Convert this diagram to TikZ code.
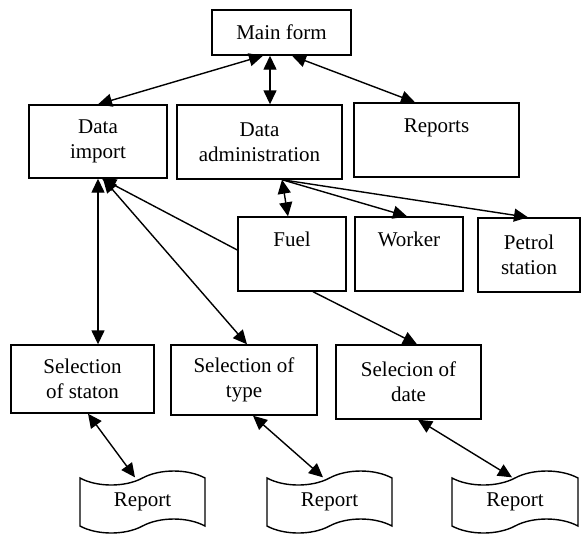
\documentclass[tikz,border=0pt]{standalone}
\usepackage{fontspec}
\setmainfont{Liberation Serif}
\usetikzlibrary{arrows.meta,shapes.symbols}
\begin{document}
\begin{tikzpicture}[x=0.5pt, y=-0.5pt, line width=0.7pt,
	>={Triangle[length=7pt,width=6.5pt]},
	sz/.style n args={2}{minimum width=#1*0.5pt, minimum height=#2*0.5pt},
	box/.style={draw, align=center, inner sep=0pt, font=\fontsize{10.5}{12.5}\selectfont},
	tapebox/.style={box, shape=tape, tape bend height=7pt}]
	\useasboundingbox (0,0) rectangle (581,536);
	\node[box, sz={139}{45}] (main) at (281.5,32.5) {Main form};
	\node[box, sz={138}{73}] (imp) at (98,141.5) {Data\\import};
	\node[box, sz={165}{74}] (adm) at (259.5,142) {Data\\administration};
	\node[box, sz={165}{74}] (rep) at (436.5,140) {Reports\\\vphantom{p}};
	\node[box, sz={108}{74}] (fuel) at (292,254) {Fuel\\\vphantom{p}};
	\node[box, sz={108}{74}] (worker) at (409,254) {Worker\\\vphantom{p}};
	\node[box, sz={102}{74}] (petrol) at (529,255) {Petrol\\station};
	\node[box, sz={143}{68}] (staton) at (82.5,379) {Selection\\of staton};
	\node[box, sz={146}{70}] (type) at (244,380) {Selection of\\type};
	\node[box, sz={145}{74}] (date) at (408.5,382) {Selecion of\\date};
	\node[tapebox, sz={125}{62}] (rpt1) at (142.5,502) {Report};
	\node[tapebox, sz={125}{62}] (rpt2) at (329.5,502) {Report};
	\node[tapebox, sz={126}{62}] (rpt3) at (515,502) {Report};
	\coordinate (hub) at ([xshift=11.25pt]adm.south);
	\draw[<->] ([xshift=-9.25pt]main.south) -- (imp.north);
	\draw[<->] ([xshift=-5.75pt]main.south) -- ([xshift=-5.75pt]main.south |- adm.north);
	\draw[<->] ([xshift=5.25pt]main.south) -- ([xshift=-10.75pt]rep.north);
	\draw[<->] (imp.south) -- (imp.south |- staton.north);
	\draw[<->] ([xshift=2.5pt]imp.south) -- ([xshift=1.5pt]type.north);
	\draw[->] ([yshift=2pt]fuel.west) -- ([xshift=2pt]imp.south);
	\draw[->] ([xshift=10.5pt]fuel.south) -- ([xshift=4.25pt]date.north);
	\draw[<->] (hub) -- ([xshift=-2pt]fuel.north);
	\draw[->] (hub) -- ([xshift=-1pt]worker.north);
	\draw[->] (hub) -- ([xshift=-0.5pt]petrol.north);
	\draw[<->] ([xshift=2.75pt]staton.south) -- ([xshift=-3.75pt]rpt1.north);
	\draw[<->] ([xshift=4.5pt]type.south) -- ([xshift=-3.25pt]rpt2.north);
	\draw[<->] ([xshift=4.75pt]date.south) -- ([xshift=-1.5pt]rpt3.north);
\end{tikzpicture}
\end{document}
